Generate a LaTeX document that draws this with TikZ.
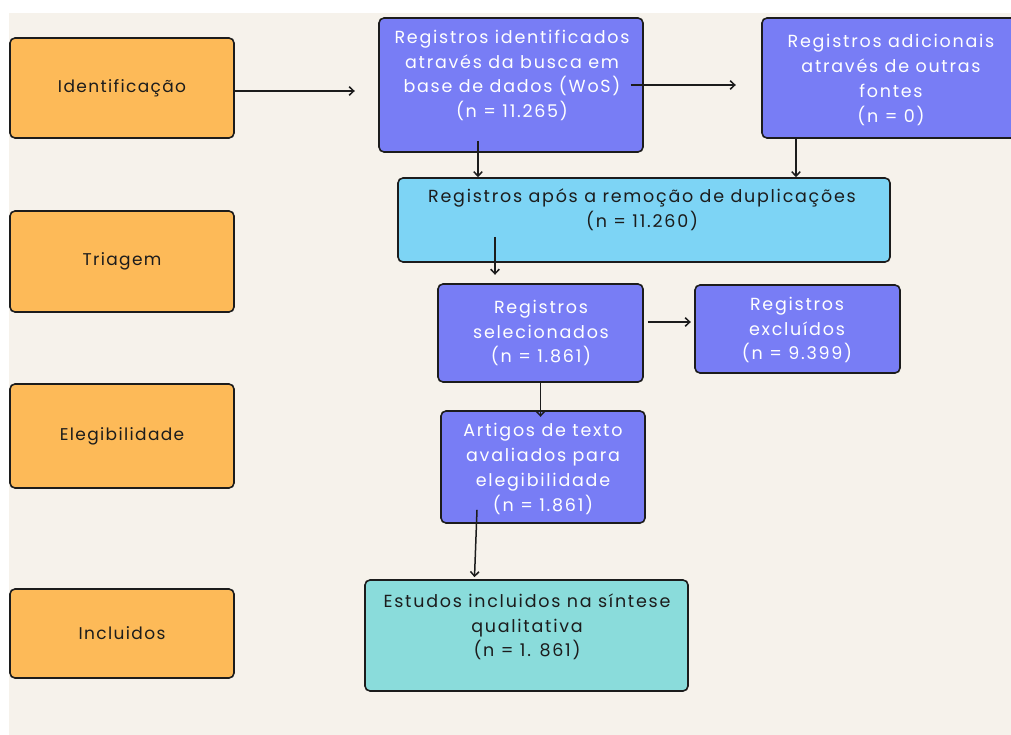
\documentclass[tikz,border=0pt]{standalone}
\usepackage{fontspec}
\setmainfont{Poppins}[LetterSpace=10]
\newfontfamily\phasefont{Poppins}[LetterSpace=8]
\usetikzlibrary{arrows.meta,calc}
\definecolor{bg}{HTML}{F6F2EB}
\definecolor{orangebox}{HTML}{FDBA58}
\definecolor{purplebox}{HTML}{787DF5}
\definecolor{bluebox}{HTML}{7DD4F5}
\definecolor{tealbox}{HTML}{8ADCDB}
\definecolor{ink}{HTML}{1C1C1C}
\begin{document}
\begin{tikzpicture}[x=1pt,y=-1pt,
  box/.style={draw=ink, line width=1.6pt, rounded corners=5pt, inner sep=0pt},
  phase/.style={box, fill=orangebox, minimum width=224pt, font=\phasefont\fontsize{17}{24.7}\selectfont, text=ink},
  purple/.style={box, fill=purplebox},
  txt/.style={inner sep=0pt, align=center, font=\fontsize{17.5}{24.7}\selectfont, text=ink},
  wtxt/.style={txt, text=white},
  arr/.style={draw=ink, line width=1.5pt, -{Straight Barb[length=4.5pt,width=8.5pt]}}]
\useasboundingbox (0,0) rectangle (1011,735);
\fill[white] (0,0) rectangle (1011,735);
\fill[bg] (9,13) rectangle (1011,735);

% phase boxes
\node[phase, minimum height=100pt] (I) at (122,88) {Identificação};
\node[phase, minimum height=101pt] (T) at (122,261.5) {Triagem};
\node[phase, minimum height=104pt] (E) at (122,436) {Elegibilidade};
\node[phase, minimum height=89pt] (In) at (122,633.5) {Incluidos};

% flow boxes
\begin{scope}
\clip (0,0) rectangle (1011,735);
\node[purple, minimum width=264pt, minimum height=134pt] (A) at (511,85) {};
\node[purple, minimum width=258pt, minimum height=120pt] (B) at (891,78) {};
\node[box, fill=bluebox, minimum width=492pt, minimum height=84pt] (C) at (644,220) {};
\node[purple, minimum width=205pt, minimum height=98pt] (D) at (540.5,333) {};
\node[purple, minimum width=205pt, minimum height=88pt] (X) at (797.5,329) {};
\node[purple, minimum width=204pt, minimum height=112pt] (F) at (543,467) {};
\node[box, fill=tealbox, minimum width=323pt, minimum height=111pt] (G) at (526.5,635.5) {};
\end{scope}

% texts
\node[wtxt] (At) at (512,75.5) {Registros identificados\\através da busca em\\base de dados (WoS)\\(n = 11.265)};
\node[wtxt] (Bt) at (891,80) {Registros adicionais\\através de outras\\fontes\\(n = 0)};
\node[txt] (Ct) at (642,210) {Registros após a remoção de duplicações\\(n = 11.260)};
\node[wtxt] (Dt) at (541,333) {Registros\\selecionados\\(n = 1.861)};
\node[wtxt] (Xt) at (797,330) {Registros\\excluídos\\(n = 9.399)};
\node[wtxt] (Ft) at (543,469) {Artigos de texto\\avaliados para\\elegibilidade\\(n = 1.861)};
\node[txt] (Gt) at (527,627) {Estudos incluidos na síntese\\qualitativa\\(n = 1. 861)};

% connectors
\coordinate (i1) at ($(I.east)+(0,3)$);
\draw[arr] (i1) -- ++(120,0);
\coordinate (a2) at ($(A.east)+(-13,0)$);
\draw[arr] (a2) -- ++(105,0);
\coordinate (a3) at ($(A.south)+(-33,-12)$);
\draw[arr] (a3) -- (a3 |- C.north);
\coordinate (b3) at ($(B.south)+(-95,0)$);
\draw[arr] (b3) -- (b3 |- C.north);
\coordinate (c3) at ($(C.south)+(-149,-26)$);
\draw[arr] (c3) -- ++(0,38);
\coordinate (d2) at ($(D.east)+(4,-11)$);
\draw[arr] (d2) -- ++(43,0);
\draw[arr] (D.south) -- ++(0,34);
\coordinate (f3) at ($(F.south)+(-66,-14)$);
\coordinate (g3) at ($(G.north)+(-52,-2)$);
\draw[arr] (f3) -- (g3);
\end{tikzpicture}
\end{document}
